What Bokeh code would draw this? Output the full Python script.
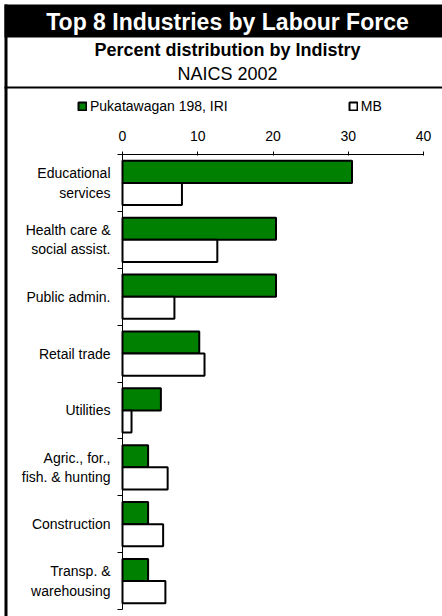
from bokeh.plotting import figure
from bokeh.models import (Range1d, LinearAxis, FixedTicker, BoxAnnotation, Label, Span,
                          Legend, LegendItem, ColumnDataSource)
from bokeh.embed import file_html
from bokeh.resources import INLINE

# ---------------- data ----------------
title_text = "Top 8 Industries by Labour Force"
subtitle_text = "Percent distribution by Indistry"
subtitle2_text = "NAICS 2002"
categories = ["Educational\nservices", "Health care &\nsocial assist.", "Public admin.",
              "Retail trade", "Utilities", "Agric., for.,\nfish. & hunting",
              "Construction", "Transp. &\nwarehousing"]
series_names = ["Pukatawagan 198, IRI", "MB"]
pukatawagan = [30.5, 20.4, 20.4, 10.2, 5.1, 3.4, 3.4, 3.4]
mb = [7.9, 12.6, 6.9, 10.9, 1.2, 6.0, 5.4, 5.7]
x_ticks = [0, 10, 20, 30, 40]

# ---------------- layout (pixels) ----------------
W, H = 442, 616
FONT = "Liberation Sans"
PX_X0, PX_X1 = 122, 423        # where x=0 and x=40 sit
PX_YT, PX_YB = 154, 609        # top / bottom of the category band
n = len(categories)
xs = (PX_X1 - PX_X0) / (x_ticks[-1] - x_ticks[0])
ys = (PX_YB - PX_YT) / n
x_range = Range1d(x_ticks[0] - PX_X0 / xs, x_ticks[-1] + (W - PX_X1) / xs)
y_range = Range1d(n + (H - PX_YB) / ys, -PX_YT / ys)   # category slots counted from the top

p = figure(width=W, height=H, output_backend="svg", toolbar_location=None,
           x_range=x_range, y_range=y_range,
           x_axis_location=None, y_axis_location=None,
           min_border=0, min_border_left=0, min_border_right=0,
           min_border_top=0, min_border_bottom=0)
p.outline_line_color = None
p.xgrid.visible = False
p.ygrid.visible = False
p.background_fill_color = None
p.border_fill_color = None

centers = [i + 0.5 for i in range(n)]
bounds_ticks = list(range(n + 1))

# x axis on top of the category band
xaxis = LinearAxis(ticker=FixedTicker(ticks=x_ticks), fixed_location=0,
                   bounds=(x_ticks[0], x_ticks[-1]),
                   major_tick_out=3, major_tick_in=1, minor_tick_out=0, minor_tick_in=0,
                   major_label_standoff=11,
                   axis_line_color="black", major_tick_line_color="black",
                   major_label_text_font=FONT, major_label_text_font_size="14px",
                   major_label_text_color="black")
p.add_layout(xaxis, "above")

# category axis: labels at slot centres, ticks at slot boundaries
yaxis = LinearAxis(ticker=FixedTicker(ticks=centers, minor_ticks=bounds_ticks),
                   fixed_location=x_ticks[0], bounds=(0, n),
                   major_label_overrides={c: lab for c, lab in zip(centers, categories)},
                   major_tick_out=0, major_tick_in=0, minor_tick_out=5, minor_tick_in=0,
                   major_label_standoff=7,
                   axis_line_color="black", minor_tick_line_color="black",
                   major_label_text_font=FONT, major_label_text_font_size="14px",
                   major_label_text_color="black")
p.add_layout(yaxis, "left")

# bars
src = ColumnDataSource(dict(cat=categories, puk=pukatawagan, mb=mb,
                            y_puk=[c - 0.195 for c in centers],
                            y_mb=[c + 0.195 for c in centers]))
r1 = p.hbar(y="y_puk", left=0, right="puk", height=0.39, source=src,
            fill_color="#008000", line_color="black", line_width=2)
r2 = p.hbar(y="y_mb", left=0, right="mb", height=0.39, source=src,
            fill_color="white", line_color="black", line_width=2)

# header decorations
def cbox(left, right, top, bottom, color):
    return BoxAnnotation(left=left, right=right, top=top, bottom=bottom,
                         left_units="canvas", right_units="canvas",
                         top_units="canvas", bottom_units="canvas",
                         fill_color=color, fill_alpha=1, line_color=None, level="underlay")

p.add_layout(cbox(4, W, 4, 37, "black"))
p.add_layout(cbox(4, W, 86, 88, "black"))
p.add_layout(cbox(4, 7, 4, H, "black"))

CX = 227
def clabel(y, text, size, color="black", style="normal"):
    return Label(x=CX, y=y, x_units="canvas", y_units="canvas", text=text,
                 text_align="center", text_baseline="middle", text_color=color,
                 text_font=FONT, text_font_style=style, text_font_size=size,
                 level="overlay")

p.add_layout(clabel(21.5, title_text, "23px", "white", "bold"))
p.add_layout(clabel(49, subtitle_text, "18px", "black", "bold"))
p.add_layout(clabel(73, subtitle2_text, "18px"))

legend = Legend(items=[LegendItem(label=series_names[0], renderers=[r1]),
                       LegendItem(label=series_names[1], renderers=[r2])],
                orientation="horizontal", location=(77, H - 114),
                glyph_width=10, glyph_height=10, label_standoff=3, spacing=120,
                padding=0, margin=0, border_line_color=None, background_fill_alpha=0,
                label_text_font=FONT, label_text_font_size="14px", label_height=10,
                label_text_color="black")
p.add_layout(legend)

open("out.html", "w").write(file_html(p, INLINE))
